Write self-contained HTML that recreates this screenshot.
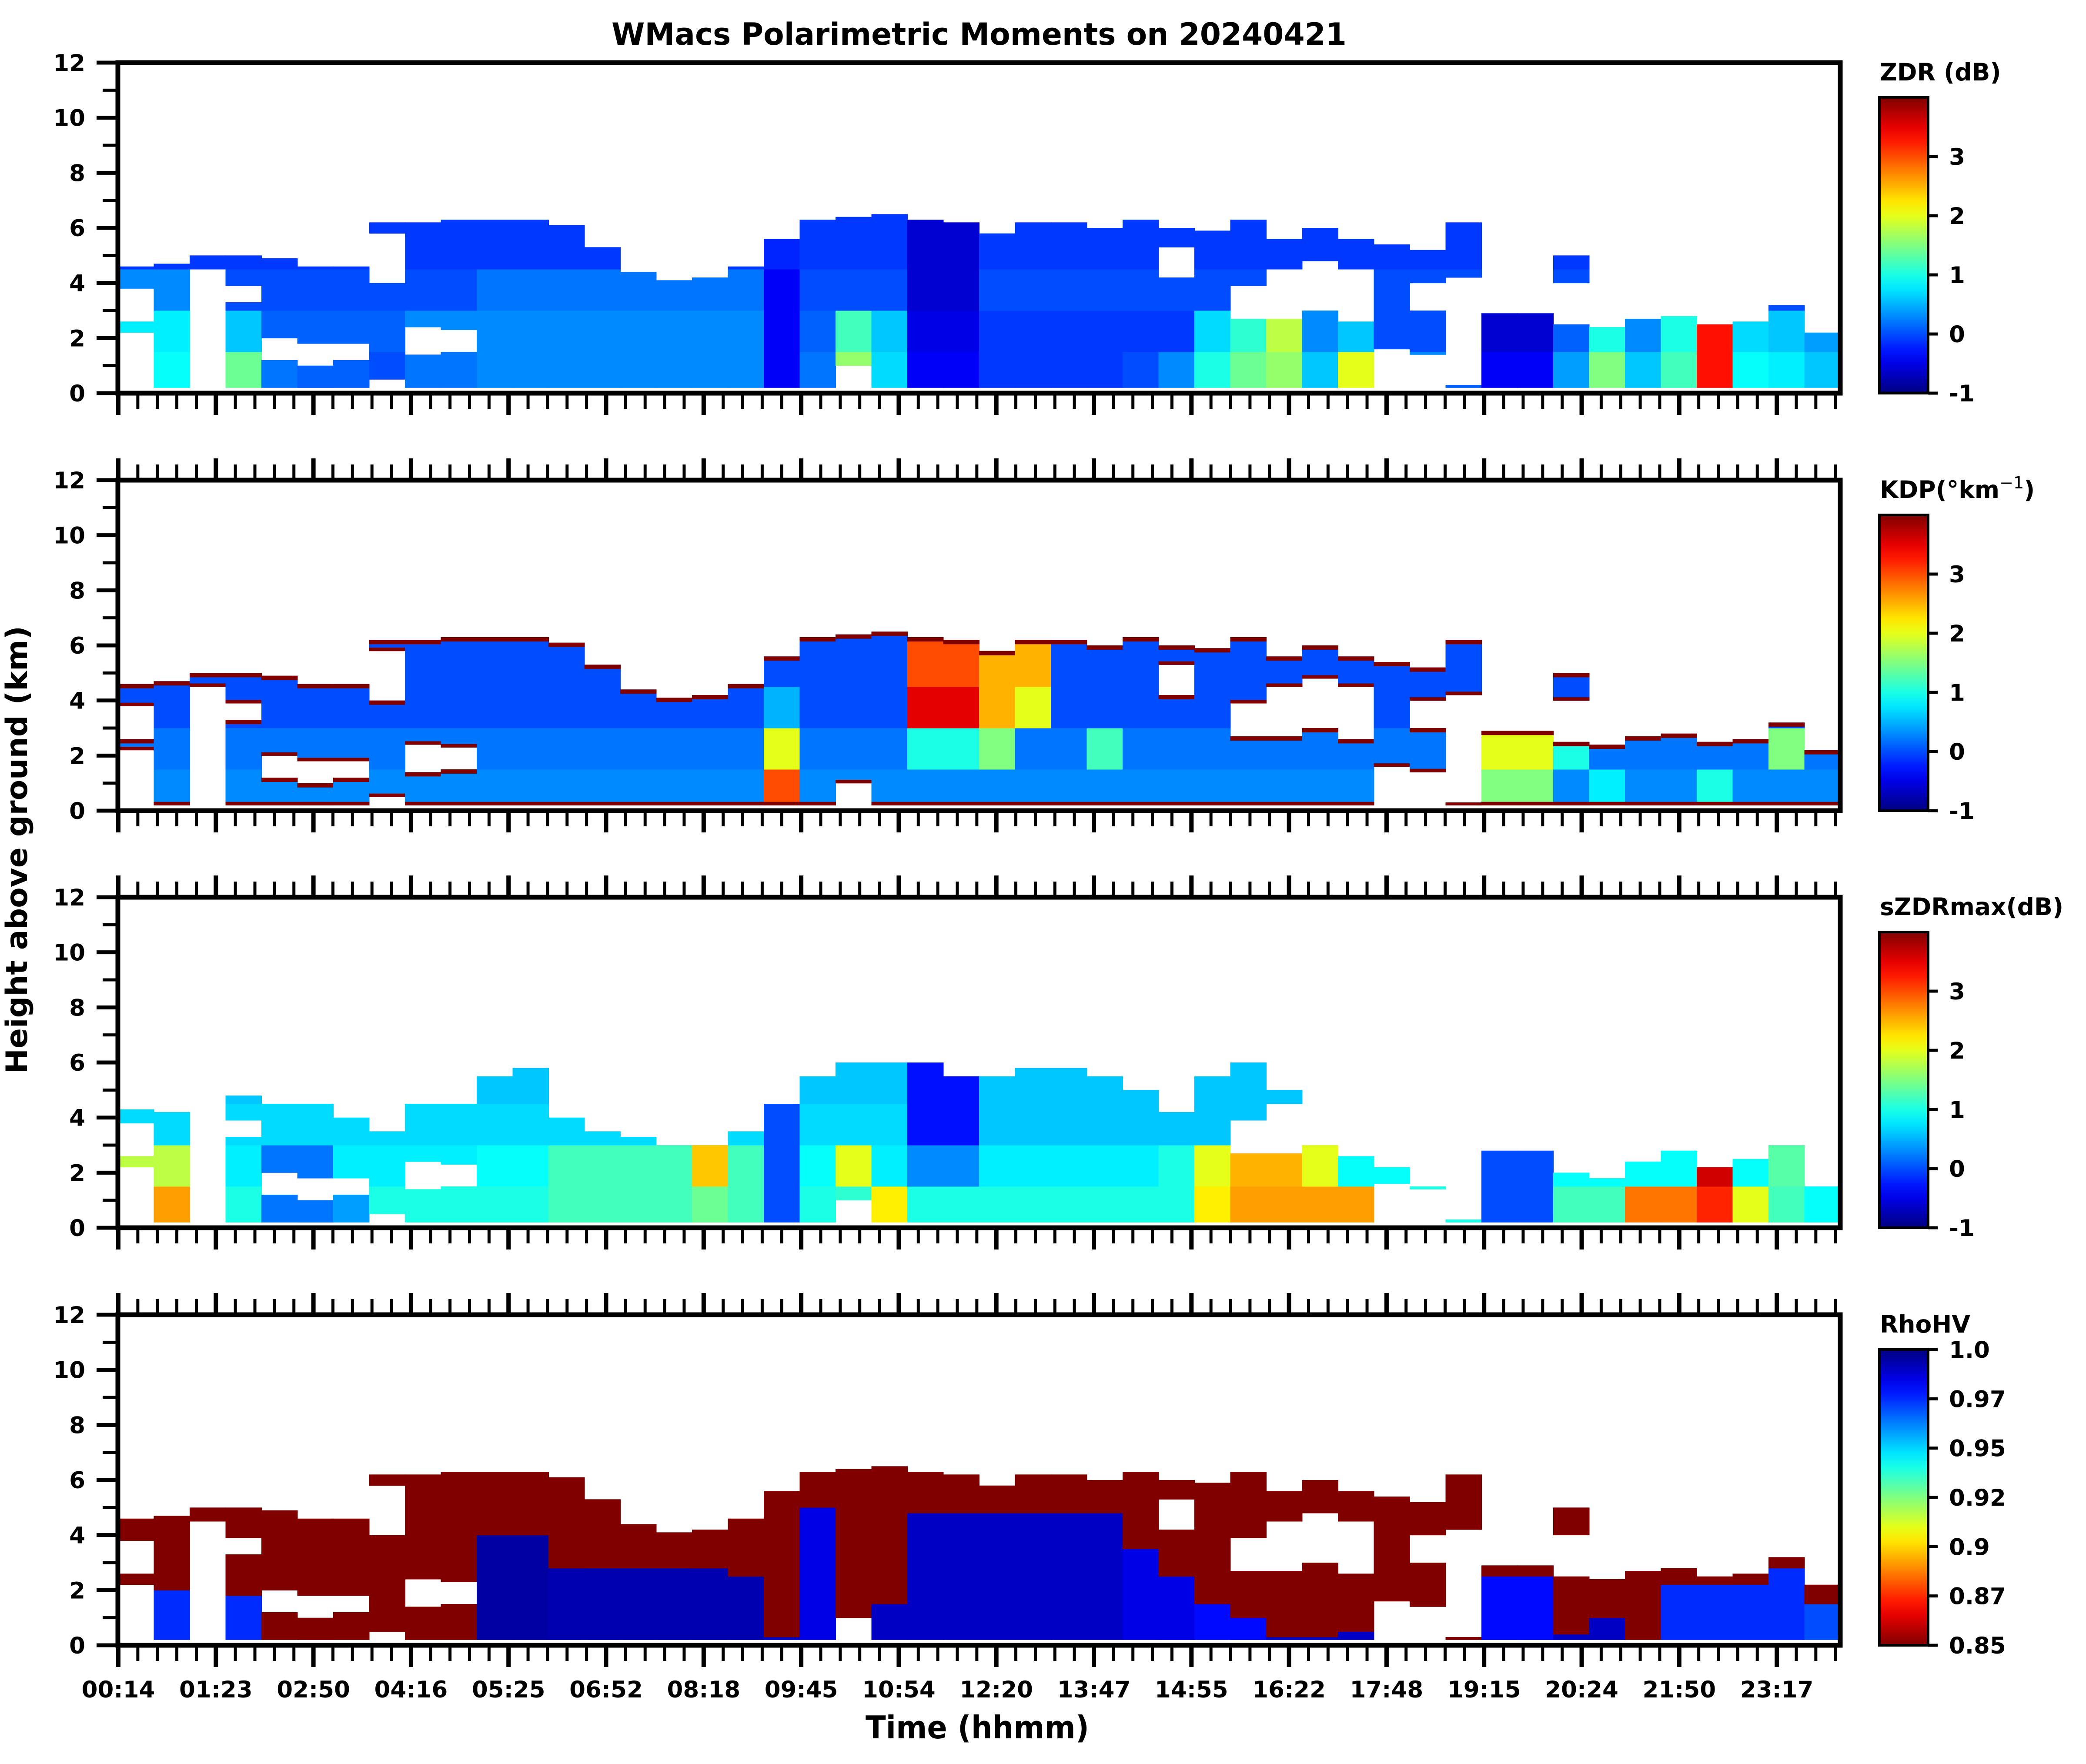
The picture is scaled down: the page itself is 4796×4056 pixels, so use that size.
<!DOCTYPE html>
<html><head><meta charset="utf-8"><title>WMacs Polarimetric Moments</title>
<style>
html,body{margin:0;padding:0;background:#fff;}
svg{display:block;font-family:"DejaVu Sans","Liberation Sans",sans-serif;font-weight:bold;}
</style></head>
<body>
<svg id="fig" xmlns="http://www.w3.org/2000/svg" width="4796" height="4056" viewBox="0 0 4796 4056">
<rect x="0" y="0" width="4796" height="4056" fill="#fff"/>
<text x="2251" y="103" font-size="70" text-anchor="middle" textLength="1690" lengthAdjust="spacingAndGlyphs">WMacs Polarimetric Moments on 20240421</text>
<text x="2247" y="3997" font-size="72" text-anchor="middle" textLength="514" lengthAdjust="spacingAndGlyphs">Time (hhmm)</text>
<text x="0" y="0" font-size="68" text-anchor="middle" textLength="1030" lengthAdjust="spacingAndGlyphs" transform="translate(62,1954) rotate(-90)">Height above ground (km)</text>
<g id="layer"></g>
</svg>
<script>
// ---- time axis data ----
const timeLabels = ["00:14","01:23","02:50","04:16","05:25","06:52","08:18","09:45","10:54","12:20","13:47","14:55","16:22","17:48","19:15","20:24","21:50","23:17"];
const yTicks = [0,2,4,6,8,10,12];
const yMinorTicks = [1,3,5,7,9,11];
// ---- echo geometry per time column (km) ----
const echoTop = [4.6,4.7,5.0,5.0,4.9,4.6,4.6,6.2,6.2,6.3,6.3,6.3,
 6.1,5.3,4.4,4.1,4.2,4.6,5.6,6.3,6.4,6.5,6.3,6.2,
 5.8,6.2,6.2,6.0,6.3,6.0,5.9,6.3,5.6,6.0,5.6,5.4,
 5.2,6.2,2.9,2.9,5.0,2.4,2.7,2.8,2.5,2.6,3.2,2.2];
const echoTopSzdr = [4.3,4.2,0,4.8,4.5,4.5,4.0,3.5,4.5,4.5,5.5,5.8,
 4.0,3.5,3.3,3.0,3.0,3.5,4.5,5.5,6.0,6.0,6.0,5.5,
 5.5,5.8,5.8,5.5,5.0,4.5,5.5,6.0,5.0,4.0,3.0,2.2,
 1.5,0.5,2.8,2.8,2.0,1.8,2.4,2.8,2.2,2.5,3.0,1.5];
const gap1Lo = [2.6,0,0,3.3,1.2,1.0,1.2,4.0,1.4,1.5,0,0,
 0,0,0,0,0,0,0,0,0,0,0,0,
 0,0,0,0,0,4.2,0,2.7,2.7,3.0,2.6,0,
 0,0.3,0,0,2.5,0,0,0,0,0,0,0];
const gap1Hi = [3.8,0,4.5,3.9,2.0,1.8,1.8,5.8,2.4,2.3,0,0,
 0,0,0,0,0,0,0,0,1.0,0,0,0,
 0,0,0,0,0,5.3,0,3.9,4.5,4.8,4.5,1.6,
 1.4,4.2,0,0,4.0,0,0,0,0,0,0,0];
const gap2Lo = [0,0,0,0,0,0,0,0,0,0,0,0,
 0,0,0,0,0,0,0,0,0,0,0,0,
 0,0,0,0,0,0,0,0,0,0,0,0,
 3.0,0,0,0,0,0,0,0,0,0,0,0];
const gap2Hi = [2.2,0,0,0,0,0,0,0.5,0,0,0,0,
 0,0,0,0,0,0,0,0,0,0,0,0,
 0,0,0,0,0,0,0,0,0,0,0,0,
 4.0,0,0,0,0,0,0,0,0,0,0,0];
// ---- ZDR (dB) per layer ----
const zdrL0 = [0.3,0.9,0.1,1.4,0.2,0.1,0.1,0.0,0.2,0.2,0.3,0.3,
 0.3,0.3,0.3,0.3,0.3,0.3,-0.4,0.2,1.6,0.7,-0.4,-0.4,
 -0.1,-0.1,-0.1,-0.1,0.0,0.3,1.0,1.4,1.6,0.6,2.0,0.3,
 0.3,0.1,-0.4,-0.4,0.4,1.5,0.6,1.2,3.3,0.9,0.8,0.6];
const zdrL1 = [0.8,0.8,0.0,0.6,0.1,0.1,0.1,0.1,0.3,0.3,0.3,0.3,
 0.3,0.3,0.3,0.3,0.3,0.3,-0.4,0.1,1.2,0.6,-0.5,-0.5,
 -0.1,-0.1,-0.1,-0.1,-0.1,-0.1,0.7,1.1,1.8,0.3,0.6,0.0,
 0.0,0.0,-0.6,-0.6,0.1,1.0,0.3,1.0,3.3,0.7,0.6,0.4];
const zdrL2 = [0.3,0.3,0.0,0.0,0.0,0.0,0.0,0.0,0.0,0.0,0.2,0.2,
 0.2,0.2,0.2,0.2,0.2,0.2,-0.4,0.0,0.0,0.0,-0.6,-0.6,
 0.0,0.0,0.0,0.0,0.0,0.0,0.0,0.0,0.0,0.0,0.0,0.0,
 0.0,0.0,0.0,0.0,0.0,0.0,0.0,0.0,0.0,0.0,0.0,0.0];
const zdrL3 = [-0.1,-0.1,-0.1,-0.1,-0.1,-0.1,-0.1,-0.1,-0.1,-0.1,-0.1,-0.1,
 -0.1,-0.1,-0.1,-0.1,-0.1,-0.1,-0.2,-0.1,-0.1,-0.1,-0.6,-0.6,
 -0.1,-0.1,-0.1,-0.1,-0.1,-0.1,-0.1,-0.1,-0.1,-0.1,-0.1,-0.1,
 -0.1,-0.1,-0.1,-0.1,-0.1,-0.1,-0.1,-0.1,-0.1,-0.1,-0.1,-0.1];
// ---- KDP (deg/km) per layer ----
const kdpL0 = [0.3,0.3,0.3,0.3,0.3,0.3,0.3,0.3,0.3,0.3,0.3,0.3,
 0.3,0.3,0.3,0.3,0.3,0.3,3.0,0.3,0.3,0.3,0.3,0.3,
 0.3,0.3,0.3,0.3,0.3,0.3,0.3,0.3,0.3,0.3,0.3,0.3,
 0.3,0.3,1.5,1.5,0.3,0.8,0.3,0.3,1.0,0.3,0.3,0.3];
const kdpL1 = [0.2,0.2,0.2,0.2,0.2,0.2,0.2,0.2,0.2,0.2,0.2,0.2,
 0.2,0.2,0.2,0.2,0.2,0.2,2.0,0.2,0.2,0.2,1.0,1.0,
 1.5,0.2,0.2,1.2,0.2,0.2,0.2,0.2,0.2,0.2,0.2,0.2,
 0.2,0.2,2.0,2.0,1.0,0.2,0.2,0.2,0.2,0.2,1.5,0.2];
const kdpL2 = [0,0,0,0,0,0,0,0,0,0,0,0,
 0,0,0,0,0,0,0.5,0,0,0,3.5,3.5,
 2.5,2.0,0,0,0,0,0,0,0,0,0,0,
 0,0,0,0,0,0,0,0,0,0,0,0];
const kdpL3 = [0,0,0,0,0,0,0,0,0,0,0,0,
 0,0,0,0,0,0,0,0,0,0,3.0,3.0,
 2.5,2.5,0,0,0,0,0,0,0,0,0,0,
 0,0,0,0,0,0,0,0,0,0,0,0];
const kdpEdgeValue = 4.0;
// ---- sZDRmax (dB) per layer ----
const szdrL0 = [2.6,2.6,1.0,1.0,0.2,0.2,0.4,1.0,1.0,1.0,1.0,1.0,
 1.2,1.2,1.2,1.2,1.4,1.2,0.0,1.0,1.1,2.2,1.0,1.0,
 1.0,1.0,1.0,1.0,1.0,1.0,2.2,2.6,2.6,2.6,2.6,1.0,
 1.0,1.0,0.0,0.0,1.2,1.2,2.8,2.8,3.2,2.0,1.2,0.9];
const szdrL1 = [1.8,1.8,0.8,0.8,0.2,0.2,0.8,0.8,0.8,0.8,0.9,0.9,
 1.2,1.2,1.2,1.2,2.4,1.2,0.0,0.9,2.0,0.8,0.3,0.3,
 0.8,0.8,0.8,0.8,0.8,1.0,2.0,2.5,2.5,2.0,0.9,0.9,
 0.9,0.9,0.0,0.0,0.9,0.9,0.9,0.9,3.6,0.9,1.3,0.9];
const szdrL2 = [0.7,0.7,0.7,0.7,0.7,0.7,0.7,0.7,0.7,0.7,0.7,0.7,
 0.7,0.7,0.7,0.7,0.7,0.7,0.0,0.7,0.7,0.7,-0.3,-0.3,
 0.6,0.6,0.6,0.6,0.6,0.6,0.6,0.6,0.6,0.6,0.6,0.6,
 0.6,0.6,0.6,0.6,0.6,0.6,0.6,0.6,0.6,0.6,0.6,0.6];
const szdrL3 = [0.6,0.6,0.6,0.6,0.6,0.6,0.6,0.6,0.6,0.6,0.6,0.6,
 0.6,0.6,0.6,0.6,0.6,0.6,0.0,0.6,0.6,0.6,-0.3,-0.3,
 0.6,0.6,0.6,0.6,0.6,0.6,0.6,0.6,0.6,0.6,0.6,0.6,
 0.6,0.6,0.6,0.6,0.6,0.6,0.6,0.6,0.6,0.6,0.6,0.6];
// ---- RhoHV ----
const rhoBlueTop = [0,2.0,0,1.8,0,0,0,0,0,0,4.0,4.0,
 2.8,2.8,2.8,2.8,2.8,2.5,0.3,5.0,0.2,1.5,4.8,4.8,
 4.8,4.8,4.8,4.8,3.5,2.5,1.5,1.0,0.3,0.3,0.5,0,
 0,0,2.5,2.5,0.4,1.0,0.2,2.2,2.2,2.2,2.8,1.5];
const rhoBlueVal = [0.99,0.975,0.99,0.975,0.99,0.99,0.99,0.99,0.99,0.99,0.995,0.995,
 0.993,0.993,0.993,0.993,0.993,0.993,0.99,0.985,0.99,0.99,0.99,0.99,
 0.99,0.99,0.99,0.99,0.985,0.985,0.98,0.98,0.99,0.99,0.99,0.99,
 0.99,0.99,0.98,0.98,0.99,0.99,0.99,0.975,0.975,0.975,0.975,0.97];
const rhoUpperVal = 0.85;
const echoBase = 0.2;
const layerEdges = [0, 1.5, 3.0, 4.5, 20];
const zdrTicks = [-1,0,1,2,3];
const rhoTickLabels = ["1.0","0.97","0.95","0.92","0.9","0.87","0.85"];

// ---- layout ----
const NS = "http://www.w3.org/2000/svg";
const layer = document.getElementById("layer");
const X0 = 271, X1 = 4231;
const panelTops = [144, 1104, 2063, 3023];
const PH = 760;
const nCols = echoTop.length;
const tickStep = 224.3;
function xCol(i){ return X0 + i*(X1-X0)/nCols; }
function xTick(k){ return 272 + k*tickStep; }
function yScale(p, h){ return panelTops[p] + PH - h*(PH/12); }
function clamp(v){ return Math.max(0, Math.min(1, v)); }
function jet(t){
  t = clamp(t);
  const r = clamp(1.5-Math.abs(4*t-3)), g = clamp(1.5-Math.abs(4*t-2)), b = clamp(1.5-Math.abs(4*t-1));
  return "rgb("+Math.round(r*255)+","+Math.round(g*255)+","+Math.round(b*255)+")";
}
function colorZ(v){ return jet((v+1)/5); }
function colorRho(v){ return jet((1.0-v)/0.15); }
function mk(tag, attrs, parent){
  const e = document.createElementNS(NS, tag);
  for (const k in attrs) e.setAttribute(k, attrs[k]);
  (parent||layer).appendChild(e);
  return e;
}
function intervals(i, top){
  let segs = [[echoBase, top]];
  const gaps = [[gap1Lo[i], gap1Hi[i]], [gap2Lo[i], gap2Hi[i]]];
  gaps.forEach(function(g){
    if (g[1] <= g[0]) return;
    const out = [];
    segs.forEach(function(s){
      if (g[1] <= s[0] || g[0] >= s[1]) { out.push(s); return; }
      if (g[0] > s[0]) out.push([s[0], g[0]]);
      if (g[1] < s[1]) out.push([g[1], s[1]]);
    });
    segs = out;
  });
  return segs.filter(function(s){ return s[1] > s[0]; });
}
function drawCell(p, i, lo, hi, fill, name){
  const xa = xCol(i), xb = xCol(i+1);
  const ya = yScale(p, hi), yb = yScale(p, lo);
  const r = mk("rect", {x: xa.toFixed(1), y: ya.toFixed(1), width: (xb-xa+1).toFixed(1), height: (yb-ya+0.5).toFixed(1), fill: fill});
  
  
}
function drawLayeredPanel(p, tops, L, colorFn, name, edgeVal){
  for (let i = 0; i < nCols; i++){
    intervals(i, tops[i]).forEach(function(s){
      for (let l = 0; l < 4; l++){
        const lo = Math.max(s[0], layerEdges[l]), hi = Math.min(s[1], layerEdges[l+1]);
        if (hi > lo) drawCell(p, i, lo, hi, colorFn(L[l][i]), name + "-cell");
      }
      if (edgeVal !== undefined){
        drawCell(p, i, Math.max(s[0], s[1]-0.15), s[1], colorFn(edgeVal), name + "-edge");
        drawCell(p, i, s[0], Math.min(s[1], s[0]+0.12), colorFn(edgeVal), name + "-edge");
      }
    });
  }
}
function drawRhoPanel(p){
  for (let i = 0; i < nCols; i++){
    intervals(i, echoTop[i]).forEach(function(s){
      const split = Math.max(s[0], Math.min(s[1], rhoBlueTop[i]));
      if (split > s[0]) drawCell(p, i, s[0], split, colorRho(rhoBlueVal[i]), "rhohv-cell");
      if (s[1] > split) drawCell(p, i, split, s[1], colorRho(rhoUpperVal), "rhohv-cell");
    });
  }
}
drawLayeredPanel(0, echoTop, [zdrL0, zdrL1, zdrL2, zdrL3], colorZ, "zdr");
drawLayeredPanel(1, echoTop, [kdpL0, kdpL1, kdpL2, kdpL3], colorZ, "kdp", kdpEdgeValue);
drawLayeredPanel(2, echoTopSzdr, [szdrL0, szdrL1, szdrL2, szdrL3], colorZ, "szdrmax");
drawRhoPanel(3);

// ---- axes ----
const panelNames = ["zdr","kdp","szdrmax","rhohv"];
for (let p = 0; p < 4; p++){
  const top = panelTops[p], bot = top + PH;
  const frame = mk("rect", {x: X0, y: top, width: X1-X0, height: PH, fill: "none", stroke: "#000", "stroke-width": 11});
  
  
  yTicks.forEach(function(v){
    const y = yScale(p, v);
    const t = mk("line", {x1: 222, x2: X0, y1: y, y2: y, stroke: "#000", "stroke-width": 9});
    
    
    const lb = mk("text", {x: 196, y: (y+19).toFixed(1), "font-size": 53, "text-anchor": "end"});
    lb.textContent = String(v);
    
    
  });
  yMinorTicks.forEach(function(v){
    const y = yScale(p, v);
    const t = mk("line", {x1: 236, x2: X0, y1: y, y2: y, stroke: "#000", "stroke-width": 7});
    
    
  });
  for (let m = 0; m <= 88; m++){
    const x = 272 + m*tickStep/5;
    if (x > X1 - 5) break;
    const major = (m % 5 === 0);
    const len = major ? 50 : 36;
    const t = mk("line", {x1: x, x2: x, y1: bot, y2: bot + len, stroke: "#000", "stroke-width": major ? 10 : 7});
    
    
    if (p > 0){
      const t2 = mk("line", {x1: x, x2: x, y1: top, y2: top - len, stroke: "#000", "stroke-width": major ? 10 : 7});
      
      
    }
  }
  if (p === 3){
    timeLabels.forEach(function(s, k){
      const lb = mk("text", {x: xTick(k).toFixed(1), y: 3903, "font-size": 53, "text-anchor": "middle"});
      lb.textContent = s;
      
      
    });
  }
}

// ---- colorbars ----
const CBX = 4321, CBW = 112;
const defs = mk("defs", {});
const gj = mk("linearGradient", {id: "jetv", x1: 0, y1: 1, x2: 0, y2: 0}, defs);
const gr = mk("linearGradient", {id: "jetr", x1: 0, y1: 0, x2: 0, y2: 1}, defs);
for (let s = 0; s <= 20; s++){
  mk("stop", {offset: (s/20).toFixed(3), "stop-color": jet(s/20)}, gj);
  mk("stop", {offset: (s/20).toFixed(3), "stop-color": jet(s/20)}, gr);
}
const cbTitles = ["ZDR (dB)", "KDP", "sZDRmax(dB)", "RhoHV"];
for (let p = 0; p < 4; p++){
  const top = panelTops[p] + 80, bot = panelTops[p] + PH;
  const h = bot - top;
  const bar = mk("rect", {x: CBX, y: top, width: CBW, height: h, fill: p === 3 ? "url(#jetr)" : "url(#jetv)", stroke: "#000", "stroke-width": 6});
  
  
  const tt = mk("text", {x: 4322, y: panelTops[p] + 41, "font-size": 55});
  
  
  if (p === 1){
    tt.textContent = "KDP(°km";
    const sup = mk("tspan", {"font-size": 38, dy: -22, "font-weight": "normal"}, tt);
    sup.textContent = "−1";
    const cl = mk("tspan", {dy: 22}, tt);
    cl.textContent = ")";
  } else {
    tt.textContent = cbTitles[p];
  }
  if (p < 3){
    zdrTicks.forEach(function(v){
      const y = bot - (v+1)/5*h;
      const t = mk("line", {x1: CBX+CBW, x2: CBX+CBW+22, y1: y, y2: y, stroke: "#000", "stroke-width": 7});
      
      
      const lb = mk("text", {x: 4481, y: (y+19).toFixed(1), "font-size": 53});
      lb.textContent = String(v);
      
      
    });
  } else {
    rhoTickLabels.forEach(function(s, k){
      const y = top + k*h/(rhoTickLabels.length-1);
      const t = mk("line", {x1: CBX+CBW, x2: CBX+CBW+22, y1: y, y2: y, stroke: "#000", "stroke-width": 7});
      
      
      const lb = mk("text", {x: 4481, y: (y+19).toFixed(1), "font-size": 53});
      lb.textContent = s;
      
      
    });
  }
}
</script>
</body></html>
